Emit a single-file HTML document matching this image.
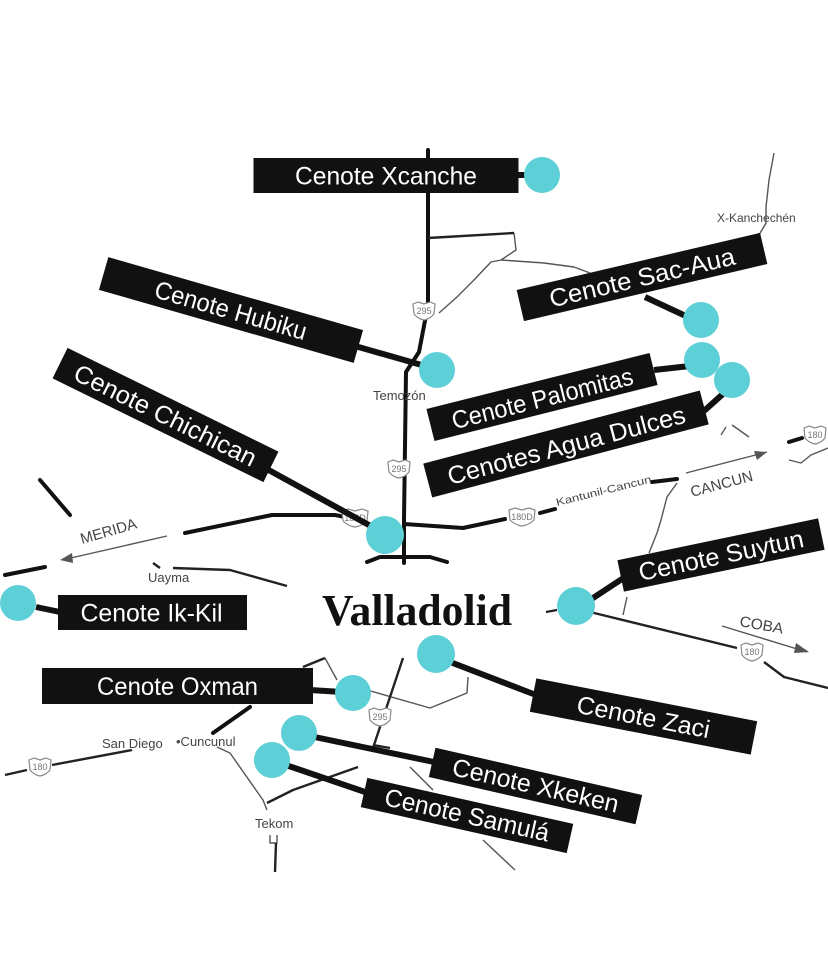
<!DOCTYPE html>
<html><head><meta charset="utf-8"><style>
html,body{margin:0;padding:0;background:#fff;}
svg{display:block;}
.lb text{fill:#fff;font-family:"Liberation Sans Narrow","Liberation Sans",sans-serif;font-size:25px;text-anchor:middle;}
.lb rect{fill:#111;}
.tk{stroke:#111;stroke-width:4;fill:none;stroke-linecap:round;stroke-linejoin:round;}
.md{stroke:#222;stroke-width:2.4;fill:none;stroke-linejoin:round;}
.th{stroke:#555;stroke-width:1.4;fill:none;stroke-linejoin:round;}
.cn{stroke:#111;stroke-width:6;fill:none;}
.dot{fill:#5dcfd6;}
.sm{font-family:"Liberation Sans",sans-serif;fill:#444;}
.bd path{fill:#fff;stroke:#888;stroke-width:1.2;}
.bd text{font-family:"Liberation Sans",sans-serif;font-size:9px;fill:#777;text-anchor:middle;}
</style></head><body>
<svg width="828" height="961" viewBox="0 0 828 961" xmlns="http://www.w3.org/2000/svg">
<rect width="828" height="961" fill="#fff"/>

<!-- thin roads -->
<polyline class="th" points="774,153 769,180 766,207 766,223 759,235 747,240"/>
<polyline class="th" points="514,233 516,250 501,260 491,262 474,280 457,297 439,313"/>
<polyline class="th" points="501,260 544,263 574,267 590,273"/>
<polyline class="th" points="686,473 767,452"/>
<polygon points="767,452 754,451 757,460" fill="#555"/>
<polyline class="th" points="677,483 667,497 661,520 657,533 649,553"/>
<polyline class="th" points="627,597 623,615"/>
<polyline class="th" points="789,460 801,463 811,455 828,448"/>
<polyline class="th" points="721,435 726,427"/>
<polyline class="th" points="732,425 749,437"/>
<polyline class="th" points="167,536 62,560"/>
<polygon points="60,560 72,553 73,563" fill="#555"/>
<polyline class="th" points="722,626 807,652"/>
<polygon points="809,652 796,643 794,653" fill="#555"/>
<polyline class="th" points="325,658 337,680"/>
<polyline class="th" points="367,690 430,708 467,693 468,677"/>
<polyline class="th" points="217,747 230,753 263,800 267,810"/>
<polyline class="th" points="410,767 433,790"/>
<polyline class="th" points="483,840 515,870"/>
<polyline class="th" points="270,835 270,843 277,843 277,835"/>

<!-- thick roads -->
<polyline class="tk" points="428,150 428,305 419,352 406,372 404,520 404,563"/>
<polyline class="md" points="428,238 514,233"/>
<polyline class="tk" points="404,524 463,528 505,519"/>
<polyline class="tk" points="540,513 555,509"/>
<polyline class="tk" points="652,482 677,479"/>
<polyline class="tk" points="789,442 802,438"/>
<polyline class="tk" points="185,533 272,515 335,515 345,517"/>
<polyline class="tk" points="40,480 70,515"/>
<polyline class="tk" points="5,575 45,567"/>
<polyline class="md" points="153,563 160,568"/>
<polyline class="md" points="173,568 230,570 287,586"/>
<polyline class="tk" points="367,562 380,557 430,557 447,562"/>
<polyline class="md" points="546,612 557,610"/>
<polyline class="md" points="590,612 737,648"/>
<polyline class="md" points="764,662 784,677 828,688"/>
<polyline class="md" points="403,658 373,748"/>
<polyline class="md" points="373,745 390,748"/>
<polyline class="md" points="303,667 325,658"/>
<polyline class="tk" points="250,707 213,733"/>
<polyline class="md" points="5,775 27,770"/>
<polyline class="md" points="52,765 132,750"/>
<polyline class="md" points="358,767 293,790 267,803"/>
<polyline class="md" points="276,843 275,872"/>

<!-- badges -->
<g class="bd" transform="translate(424,311)"><path d="M-11,-7 L-6,-9 L0,-7 L6,-9 L11,-7 L10,3 Q6,8 0,9 Q-6,8 -10,3 Z"/><text y="3">295</text></g>
<g class="bd" transform="translate(399,469)"><path d="M-11,-7 L-6,-9 L0,-7 L6,-9 L11,-7 L10,3 Q6,8 0,9 Q-6,8 -10,3 Z"/><text y="3">295</text></g>
<g class="bd" transform="translate(380,717)"><path d="M-11,-7 L-6,-9 L0,-7 L6,-9 L11,-7 L10,3 Q6,8 0,9 Q-6,8 -10,3 Z"/><text y="3">295</text></g>
<g class="bd" transform="translate(40,767)"><path d="M-11,-7 L-6,-9 L0,-7 L6,-9 L11,-7 L10,3 Q6,8 0,9 Q-6,8 -10,3 Z"/><text y="3">180</text></g>
<g class="bd" transform="translate(752,652)"><path d="M-11,-7 L-6,-9 L0,-7 L6,-9 L11,-7 L10,3 Q6,8 0,9 Q-6,8 -10,3 Z"/><text y="3">180</text></g>
<g class="bd" transform="translate(815,435)"><path d="M-11,-7 L-6,-9 L0,-7 L6,-9 L11,-7 L10,3 Q6,8 0,9 Q-6,8 -10,3 Z"/><text y="3">180</text></g>
<g class="bd" transform="translate(355,518)"><path d="M-13,-7 L-7,-9 L0,-7 L7,-9 L13,-7 L12,3 Q7,8 0,9 Q-7,8 -12,3 Z"/><text y="3">180D</text></g>
<g class="bd" transform="translate(522,517)"><path d="M-13,-7 L-7,-9 L0,-7 L7,-9 L13,-7 L12,3 Q7,8 0,9 Q-7,8 -12,3 Z"/><text y="3">180D</text></g>

<!-- small map text -->
<text class="sm" x="717" y="222" font-size="12">X-Kanchechén</text>
<text class="sm" x="373" y="400" font-size="13">Temozón</text>
<text class="sm" x="148" y="582" font-size="13">Uayma</text>
<text class="sm" x="102" y="748" font-size="13">San Diego</text>
<text class="sm" x="176" y="746" font-size="13">•Cuncunul</text>
<text class="sm" x="255" y="828" font-size="13">Tekom</text>
<text class="sm" x="560" y="616" font-size="12" fill="#888">ch</text>
<text class="sm" transform="translate(557,506) rotate(-14)" font-size="10.5" textLength="98" lengthAdjust="spacingAndGlyphs">Kantunil-Cancun</text>
<text class="sm" transform="translate(692,497) rotate(-15)" font-size="15" fill="#555" textLength="64" lengthAdjust="spacingAndGlyphs">CANCUN</text>
<text class="sm" transform="translate(82,544) rotate(-16)" font-size="15" fill="#555" textLength="58" lengthAdjust="spacingAndGlyphs">MERIDA</text>
<text class="sm" transform="translate(739,626) rotate(10)" font-size="15" fill="#555" textLength="44" lengthAdjust="spacingAndGlyphs">COBA</text>

<!-- connectors -->
<line class="cn" x1="515" y1="175" x2="530" y2="175"/>
<line class="cn" x1="355" y1="346" x2="425" y2="366"/>
<line class="cn" x1="265" y1="468" x2="378" y2="530"/>
<line class="cn" x1="645" y1="297" x2="690" y2="318"/>
<line class="cn" x1="654" y1="370" x2="690" y2="366"/>
<line class="cn" x1="704" y1="411" x2="724" y2="393"/>
<line class="cn" x1="590" y1="600" x2="625" y2="577"/>
<line class="cn" x1="445" y1="660" x2="536" y2="695"/>
<line class="cn" x1="36" y1="607" x2="60" y2="612"/>
<line class="cn" x1="310" y1="690" x2="342" y2="692"/>
<line class="cn" x1="305" y1="735" x2="434" y2="762"/>
<line class="cn" x1="280" y1="763" x2="368" y2="793"/>

<!-- labels -->
<g class="lb" transform="translate(386,175.5)"><rect x="-132.5" y="-17.5" width="265" height="35"/><text y="9" textLength="182" lengthAdjust="spacingAndGlyphs">Cenote Xcanche</text></g>
<g class="lb" transform="translate(231,310) rotate(16)"><rect x="-132.5" y="-17" width="265" height="34"/><text y="9" textLength="157" lengthAdjust="spacingAndGlyphs">Cenote Hubiku</text></g>
<g class="lb" transform="translate(165.5,415) rotate(26.2)"><rect x="-117.5" y="-17" width="235" height="34"/><text y="9" textLength="200" lengthAdjust="spacingAndGlyphs">Cenote Chichican</text></g>
<g class="lb" transform="translate(642,277) rotate(-13.2)"><rect x="-125" y="-16" width="250" height="32"/><text y="9" textLength="190" lengthAdjust="spacingAndGlyphs">Cenote Sac-Aua</text></g>
<g class="lb" transform="translate(542,397) rotate(-14.1)"><rect x="-115" y="-16.5" width="230" height="33"/><text y="10" textLength="186" lengthAdjust="spacingAndGlyphs">Cenote Palomitas</text></g>
<g class="lb" transform="translate(566,444) rotate(-14.8)"><rect x="-143" y="-17.5" width="286" height="35"/><text y="10" textLength="245" lengthAdjust="spacingAndGlyphs">Cenotes Agua Dulces</text></g>
<g class="lb" transform="translate(721,555) rotate(-11.8)"><rect x="-102.5" y="-16" width="205" height="32"/><text y="9" textLength="168" lengthAdjust="spacingAndGlyphs">Cenote Suytun</text></g>
<g class="lb" transform="translate(643.5,716.5) rotate(11)"><rect x="-112.5" y="-17" width="225" height="34"/><text y="9" textLength="135" lengthAdjust="spacingAndGlyphs">Cenote Zaci</text></g>
<g class="lb" transform="translate(535.5,786) rotate(12.9)"><rect x="-106" y="-15" width="212" height="30"/><text y="8" textLength="170" lengthAdjust="spacingAndGlyphs">Cenote Xkeken</text></g>
<g class="lb" transform="translate(467,815.5) rotate(12.6)"><rect x="-105.5" y="-15" width="211" height="30"/><text y="8" textLength="168" lengthAdjust="spacingAndGlyphs">Cenote Samulá</text></g>
<g class="lb" transform="translate(152.5,612.5)"><rect x="-94.5" y="-17.5" width="189" height="35"/><text x="-1" y="9" textLength="142" lengthAdjust="spacingAndGlyphs">Cenote Ik-Kil</text></g>
<g class="lb" transform="translate(177.5,686)"><rect x="-135.5" y="-18" width="271" height="36"/><text y="9" textLength="161" lengthAdjust="spacingAndGlyphs">Cenote Oxman</text></g>

<!-- dots -->
<circle class="dot" cx="542" cy="175" r="18"/>
<circle class="dot" cx="437" cy="370" r="18"/>
<circle class="dot" cx="385" cy="535" r="19"/>
<circle class="dot" cx="701" cy="320" r="18"/>
<circle class="dot" cx="702" cy="360" r="18"/>
<circle class="dot" cx="732" cy="380" r="18"/>
<circle class="dot" cx="18" cy="603" r="18"/>
<circle class="dot" cx="576" cy="606" r="19"/>
<circle class="dot" cx="436" cy="654" r="19"/>
<circle class="dot" cx="353" cy="693" r="18"/>
<circle class="dot" cx="299" cy="733" r="18"/>
<circle class="dot" cx="272" cy="760" r="18"/>

<!-- city -->
<text x="322" y="625" font-family="'Liberation Serif',serif" font-weight="bold" font-size="44" fill="#111" textLength="190" lengthAdjust="spacingAndGlyphs">Valladolid</text>
</svg>
</body></html>
